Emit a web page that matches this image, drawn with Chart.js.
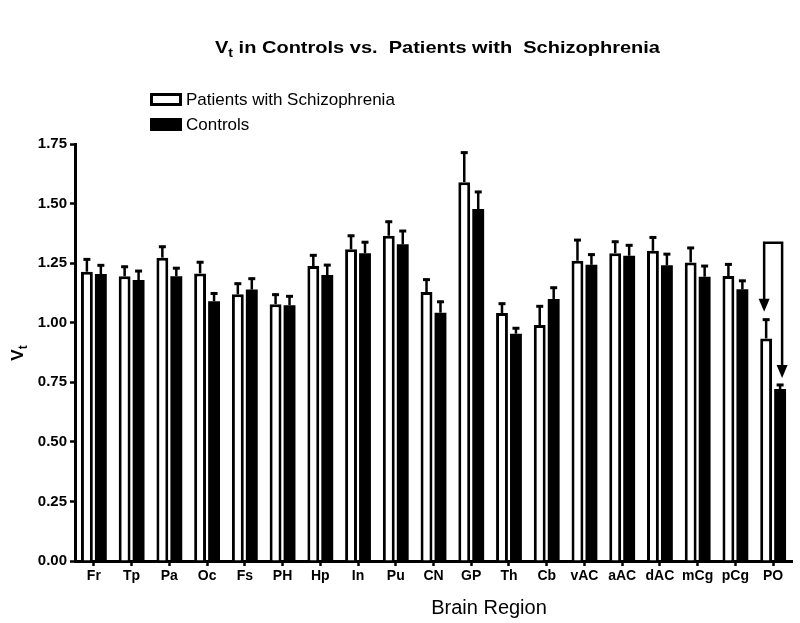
<!DOCTYPE html>
<html>
<head>
<meta charset="utf-8">
<script src="https://cdn.jsdelivr.net/npm/chart.js@4"></script>
<style>
  body { margin: 0; background: #fff; }
  canvas { display: block; }
</style>
</head>
<body>
<canvas id="vtChart" width="800" height="623"></canvas>
<script>
// Data
const regions = ['Fr', 'Tp', 'Pa', 'Oc', 'Fs', 'PH', 'Hp', 'In', 'Pu', 'CN', 'GP', 'Th', 'Cb', 'vAC', 'aAC', 'dAC', 'mCg', 'pCg', 'PO'];
const patientsMean = [1.214, 1.195, 1.273, 1.207, 1.119, 1.078, 1.238, 1.308, 1.365, 1.129, 1.590, 1.041, 0.990, 1.260, 1.292, 1.302, 1.253, 1.196, 0.934];
const patientsErr  = [0.056, 0.044, 0.050, 0.051, 0.049, 0.044, 0.049, 0.061, 0.063, 0.056, 0.128, 0.043, 0.083, 0.091, 0.052, 0.060, 0.065, 0.053, 0.083];
const controlsMean = [1.204, 1.179, 1.195, 1.090, 1.139, 1.073, 1.200, 1.292, 1.329, 1.042, 1.477, 0.954, 1.099, 1.243, 1.281, 1.241, 1.193, 1.140, 0.722];
const controlsErr  = [0.041, 0.042, 0.038, 0.037, 0.050, 0.042, 0.046, 0.050, 0.060, 0.050, 0.076, 0.027, 0.052, 0.047, 0.048, 0.051, 0.049, 0.040, 0.021];
const yMax = 1.75;
const yStep = 0.25;
// bracket over PO: top of bracket, tip of arrow over patients, tip over controls
const bracketTop = 1.336;
const bracketPatientsTip = 1.046;
const bracketControlsTip = 0.768;

const FONT = '"Liberation Sans", Arial, sans-serif';

document.addEventListener('DOMContentLoaded', function() {
    // error bars (upper only)
    const errorBarsPlugin = {
        id: 'errorBars',
        afterDatasetsDraw(chart) {
            const { ctx } = chart;
            const yScale = chart.scales.y;
            const errs = [patientsErr, controlsErr];
            chart.data.datasets.forEach((dataset, i) => {
                const meta = chart.getDatasetMeta(i);
                meta.data.forEach((bar, index) => {
                    const top = yScale.getPixelForValue(dataset.data[index] + errs[i][index]);
                    ctx.save();
                    ctx.strokeStyle = '#000';
                    ctx.lineWidth = 2.5;
                    ctx.beginPath();
                    ctx.moveTo(bar.x, bar.y);
                    ctx.lineTo(bar.x, top);
                    ctx.stroke();
                    ctx.lineWidth = 3;
                    ctx.beginPath();
                    ctx.moveTo(bar.x - 3.5, top + 1);
                    ctx.lineTo(bar.x + 3.5, top + 1);
                    ctx.stroke();
                    ctx.restore();
                });
            });
        }
    };

    // bracket with arrows over the last region + titles and legend
    const annotationsPlugin = {
        id: 'annotations',
        afterDraw(chart) {
            const { ctx } = chart;
            const yScale = chart.scales.y;
            const last = regions.length - 1;
            const xL = chart.getDatasetMeta(0).data[last].x - 2;
            const xR = chart.getDatasetMeta(1).data[last].x + 2;
            const yTop = yScale.getPixelForValue(bracketTop);
            const yTipL = yScale.getPixelForValue(bracketPatientsTip);
            const yTipR = yScale.getPixelForValue(bracketControlsTip);

            ctx.save();
            ctx.strokeStyle = '#000';
            ctx.fillStyle = '#000';
            ctx.lineWidth = 2.5;
            ctx.beginPath();
            ctx.moveTo(xL, yTipL - 12);
            ctx.lineTo(xL, yTop);
            ctx.lineTo(xR, yTop);
            ctx.lineTo(xR, yTipR - 12);
            ctx.stroke();
            [[xL, yTipL], [xR, yTipR]].forEach(([x, y]) => {
                ctx.beginPath();
                ctx.moveTo(x - 5.5, y - 13);
                ctx.lineTo(x + 5.5, y - 13);
                ctx.lineTo(x, y);
                ctx.closePath();
                ctx.fill();
            });

            // main title with subscript, stretched a little to the original width
            ctx.textBaseline = 'alphabetic';
            ctx.textAlign = 'left';
            const main = 'V';
            const sub = 't';
            const rest = ' in Controls vs.  Patients with  Schizophrenia';
            ctx.font = 'bold 17px ' + FONT;
            const wMain = ctx.measureText(main).width;
            const wRest = ctx.measureText(rest).width;
            ctx.font = 'bold 12px ' + FONT;
            const wSub = ctx.measureText(sub).width;
            const total = wMain + wSub + wRest;
            const sx = 445 / total;
            ctx.save();
            ctx.translate(437.5 - 445 / 2, 53);
            ctx.scale(sx, 1);
            ctx.font = 'bold 17px ' + FONT;
            ctx.fillText(main, 0, 0);
            ctx.font = 'bold 12px ' + FONT;
            ctx.fillText(sub, wMain, 4);
            ctx.font = 'bold 17px ' + FONT;
            ctx.fillText(rest, wMain + wSub, 0);
            ctx.restore();

            // y axis title
            ctx.save();
            ctx.translate(23, 352);
            ctx.rotate(-Math.PI / 2);
            ctx.font = 'bold 17px ' + FONT;
            const vw = ctx.measureText('V').width;
            ctx.fillText('V', -vw / 2 - 3, 0);
            ctx.font = 'bold 12px ' + FONT;
            ctx.fillText('t', vw / 2 - 3, 4);
            ctx.restore();

            // x axis title
            ctx.textAlign = 'center';
            ctx.font = '20px ' + FONT;
            ctx.fillText('Brain Region', 489, 614);

            // legend
            ctx.textAlign = 'left';
            ctx.textBaseline = 'middle';
            ctx.lineWidth = 3;
            ctx.fillStyle = '#fff';
            ctx.fillRect(151.5, 94.5, 29, 10);
            ctx.strokeRect(151.5, 94.5, 29, 10);
            ctx.fillStyle = '#000';
            ctx.fillRect(150, 118, 32, 13);
            ctx.font = '17px ' + FONT;
            ctx.fillText('Patients with Schizophrenia', 186, 100);
            ctx.fillText('Controls', 186, 125);
            ctx.restore();
        }
    };

    const ctxEl = document.getElementById('vtChart').getContext('2d');
    new Chart(ctxEl, {
        type: 'bar',
        data: {
            labels: regions,
            datasets: [{
                label: 'Patients with Schizophrenia',
                data: patientsMean,
                backgroundColor: '#ffffff',
                borderColor: '#000000',
                borderWidth: 3,
                borderSkipped: 'start'
            }, {
                label: 'Controls',
                data: controlsMean,
                backgroundColor: '#000000',
                borderColor: '#000000',
                borderWidth: 0
            }]
        },
        options: {
            responsive: false,
            animation: false,
            devicePixelRatio: 1,
            categoryPercentage: 0.74,
            barPercentage: 0.85,
            layout: {
                padding: { top: 144, right: 8, left: 30, bottom: 0 }
            },
            plugins: {
                legend: { display: false },
                tooltip: { enabled: false },
                title: { display: false }
            },
            scales: {
                x: {
                    offset: true,
                    grid: { drawOnChartArea: false, drawTicks: true, tickLength: 5, tickWidth: 2.5, color: '#000', offset: false },
                    border: { display: true, width: 3, color: '#000' },
                    ticks: { color: '#000', font: { family: FONT, size: 14, weight: 'bold' }, padding: 2, maxRotation: 0, autoSkip: false },
                    afterFit(scale) { scale.height = 62; }
                },
                y: {
                    min: 0,
                    max: yMax,
                    grid: { drawOnChartArea: false, drawTicks: true, tickLength: 5, tickWidth: 2.5, color: '#000' },
                    border: { display: true, width: 3, color: '#000' },
                    ticks: {
                        stepSize: yStep,
                        color: '#000',
                        padding: 3,
                        font: { family: FONT, size: 15, weight: 'bold' },
                        callback: v => v.toFixed(2)
                    },
                    afterFit(scale) { scale.width = 45; }
                }
            }
        },
        plugins: [errorBarsPlugin, annotationsPlugin]
    });
});
</script>
</body>
</html>
